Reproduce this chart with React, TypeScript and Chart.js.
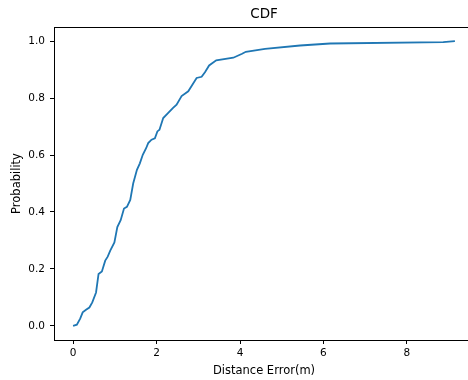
import React, { useEffect, useRef } from "react";
import { Chart, registerables } from "chart.js";

Chart.register(...registerables);

const distanceError = [0, 0.09, 0.17, 0.23, 0.31, 0.39, 0.46, 0.55, 0.61, 0.69, 0.77, 0.83, 0.89, 0.99, 1.06, 1.14, 1.22, 1.29, 1.37, 1.44, 1.53, 1.6, 1.67, 1.75, 1.8, 1.88, 1.96, 2.02, 2.07, 2.16, 2.28, 2.39, 2.48, 2.6, 2.76, 2.96, 3.08, 3.16, 3.26, 3.43, 3.84, 4.05, 4.14, 4.6, 5.44, 6.16, 8.87, 9.15];
const probability = [0, 0.004, 0.025, 0.047, 0.056, 0.064, 0.082, 0.117, 0.182, 0.191, 0.229, 0.243, 0.264, 0.293, 0.347, 0.371, 0.412, 0.418, 0.442, 0.5, 0.548, 0.571, 0.601, 0.624, 0.642, 0.654, 0.659, 0.683, 0.689, 0.73, 0.748, 0.765, 0.777, 0.807, 0.824, 0.871, 0.875, 0.891, 0.915, 0.933, 0.942, 0.956, 0.963, 0.973, 0.985, 0.992, 0.997, 1.0];

const xTicks = [0, 2, 4, 6, 8];
const yTicks = [0, 0.2, 0.4, 0.6, 0.8, 1.0];

const FONT = "'DejaVu Sans', sans-serif";

const framePlugin = {
  id: "frame",
  afterDraw(chart: any) {
    const { ctx, chartArea } = chart;
    ctx.save();
    ctx.strokeStyle = "#000";
    ctx.lineWidth = 1;
    ctx.strokeRect(
      Math.round(chartArea.left) + 0.5,
      Math.round(chartArea.top) + 0.5,
      Math.round(chartArea.right - chartArea.left),
      Math.round(chartArea.bottom - chartArea.top)
    );
    ctx.restore();
  },
};

export default function App() {
  const ref = useRef<HTMLCanvasElement>(null);
  useEffect(() => {
    if (!ref.current) return;
    const points = distanceError.map((x, i) => ({ x, y: probability[i] }));
    const chart = new Chart(ref.current, {
      type: "line",
      data: {
        datasets: [
          {
            data: points,
            borderColor: "#1f77b4",
            borderWidth: 1.8,
            pointRadius: 0,
            tension: 0,
            fill: false,
          },
        ],
      },
      options: {
        animation: false,
        responsive: false,
        devicePixelRatio: 1,
        layout: { padding: { left: 0, right: 6, top: 0, bottom: 0 } },
        plugins: {
          legend: { display: false },
          tooltip: { enabled: false },
          title: {
            display: true,
            text: "CDF",
            fullSize: false,
            color: "#000",
            font: { family: FONT, size: 13.5, weight: "normal" },
            padding: { top: 6, bottom: 4.8 },
          },
        },
        scales: {
          x: {
            type: "linear",
            min: -0.4575,
            max: 9.6075,
            afterBuildTicks: (scale: any) => {
              scale.ticks = xTicks.map((v) => ({ value: v }));
            },
            afterFit: (scale: any) => {
              scale.height = 40;
            },
            ticks: {
              color: "#000",
              font: { family: FONT, size: 10.5 },
              padding: 3,
              maxRotation: 0,
              autoSkip: false,
              callback: (v: any) => String(v),
            },
            grid: {
              display: true,
              drawOnChartArea: false,
              drawTicks: true,
              tickLength: 4,
              color: "#000",
            },
            border: { display: true, color: "#000", width: 1 },
            title: {
              display: true,
              text: "Distance Error(m)",
              color: "#000",
              font: { family: FONT, size: 11.5 },
              padding: { top: 0, bottom: 2.5 },
            },
          },
          y: {
            type: "linear",
            min: -0.05,
            max: 1.05,
            afterBuildTicks: (scale: any) => {
              scale.ticks = yTicks.map((v) => ({ value: v }));
            },
            afterFit: (scale: any) => {
              scale.width = 54;
            },
            ticks: {
              color: "#000",
              font: { family: FONT, size: 10.5 },
              padding: 5,
              autoSkip: false,
              callback: (v: any) => Number(v).toFixed(1),
            },
            grid: {
              display: true,
              drawOnChartArea: false,
              drawTicks: true,
              tickLength: 4,
              color: "#000",
            },
            border: { display: true, color: "#000", width: 1 },
            title: {
              display: true,
              text: "Probability",
              color: "#000",
              font: { family: FONT, size: 11.5 },
              padding: { top: 10, bottom: 0 },
            },
          },
        },
      },
      plugins: [framePlugin],
    } as any);
    return () => chart.destroy();
  }, []);

  return (
    <div
      style={{
        position: "fixed",
        left: 0,
        top: 0,
        width: 468,
        height: 380,
        overflow: "hidden",
        background: "#fff",
      }}
    >
      <canvas ref={ref} width={480} height={380} style={{ width: 480, height: 380, display: "block" }} />
    </div>
  );
}
